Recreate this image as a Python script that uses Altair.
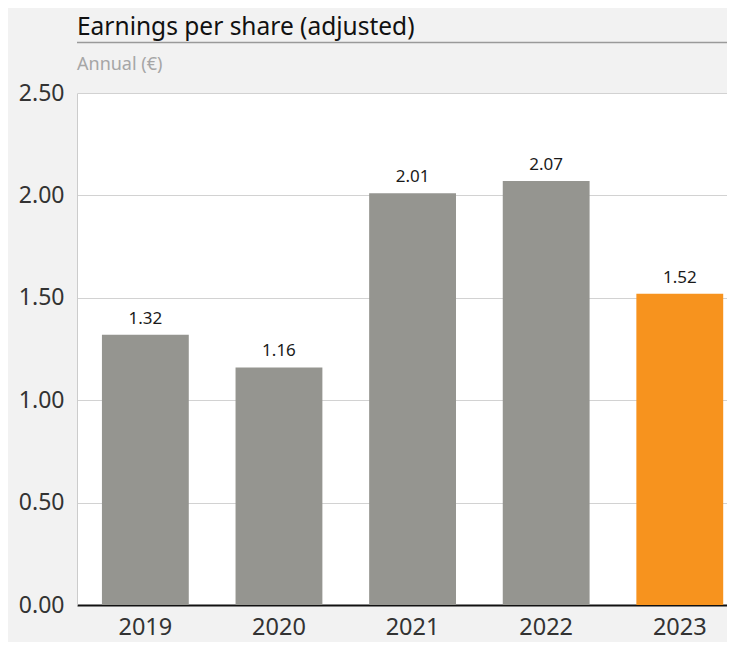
import altair as alt
import pandas as pd

years = ["2019", "2020", "2021", "2022", "2023"]
eps = [1.32, 1.16, 2.01, 2.07, 1.52]
period = ["past", "past", "past", "past", "current"]
y_ticks = [0.0, 0.5, 1.0, 1.5, 2.0, 2.5]

title_text = "Earnings per share (adjusted)"
subtitle_text = "Annual (€)"

FONT = "Noto Sans"

df = pd.DataFrame({"year": years, "eps": eps, "period": period})

x = alt.X("year:N", title=None,
          scale=alt.Scale(paddingInner=0.35, paddingOuter=0.1075, align=0.868),
          axis=alt.Axis(labelAngle=0, ticks=False, domainColor="#111111", domainWidth=2,
                        labelFontSize=23.5, labelColor="#333333", labelPadding=10, labelFont=FONT))
y = alt.Y("eps:Q", title=None,
          scale=alt.Scale(domain=[0, 2.5], nice=False),
          axis=alt.Axis(values=y_ticks, format=".2f", ticks=False, domain=True,
                        domainColor="#cccccc", domainWidth=1,
                        grid=True, gridColor="#d2d2d2", gridWidth=1,
                        labelFontSize=23, labelColor="#333333", labelPadding=13, labelFont=FONT))

bars = alt.Chart(df).mark_bar().encode(
    x=x, y=y,
    color=alt.Color("period:N", scale=alt.Scale(domain=["past", "current"],
                                                range=["#959590", "#f7931e"]), legend=None),
)

labels = alt.Chart(df).mark_text(baseline="bottom", dy=-7, fontSize=17, font=FONT, color="#1a1a1a").encode(
    x="year:N", y="eps:Q", text=alt.Text("eps:Q", format=".2f")
)

head = pd.DataFrame({"t": [title_text], "s": [subtitle_text]})

title = alt.Chart(head).mark_text(align="left", baseline="alphabetic", fontSize=24.5, font=FONT,
                                  color="#111111").encode(
    x=alt.value(0), y=alt.value(-58.5), text="t:N")
subtitle = alt.Chart(head).mark_text(align="left", baseline="alphabetic", fontSize=18, font=FONT,
                                     color="#a6a6a6").encode(
    x=alt.value(0), y=alt.value(-23.5), text="s:N")
line = alt.Chart(head).mark_rule(color="#9a9a9a", strokeWidth=1.5).encode(
    x=alt.value(0), x2=alt.value(700), y=alt.value(-50.5))

chart = alt.layer(bars, labels, title, subtitle, line).properties(
    width=650, height=512,
    background="#f2f2f2",
    padding={"left": 69, "top": 85, "right": 0, "bottom": 37},
    autosize=alt.AutoSizeParams(type="none"),
).configure_view(fill="white", stroke=None)

chart.save("out.html", embed_options={"renderer": "svg", "actions": False})
